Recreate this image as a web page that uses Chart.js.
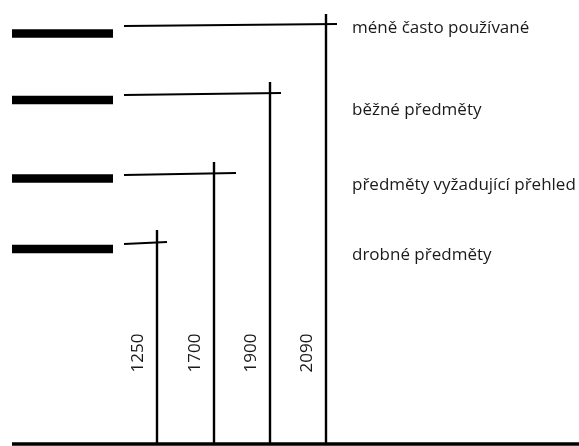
<!DOCTYPE html>
<html>
<head>
<meta charset="utf-8">
<script src="https://cdn.jsdelivr.net/npm/chart.js@4/dist/chart.umd.min.js"></script>
<style>
  html, body { margin: 0; padding: 0; background: #fff; }
  #wrap { width: 579px; height: 446px; }
</style>
</head>
<body>
<div id="wrap"><canvas id="chart" width="579" height="446"></canvas></div>
<script>
// categories, bottom to top
const categories = ['drobné předměty', 'předměty vyžadující přehled', 'běžné předměty', 'méně často používané'];
// reach values written on the posts
const reachValues = [1250, 1700, 1900, 2090];
// drawing units (floor = 0)
const shelfLevels = [195, 265.5, 344, 410.5];
const armStartLevels = [200, 269, 349, 418];
const armEndLevels = [202, 271, 351, 420];
const postTops = [214, 282, 362, 430];
const postX = [157, 214, 270, 326];
const armEndX = [167, 236, 281, 337];
const labelLevels = [189, 259, 334, 416];

const shelfFrom = 12, shelfTo = 113, armFrom = 124, labelX = 352;
const valueLabelLevel = 91;

const datasets = [];

// thick shelves on the left
shelfLevels.forEach(function (lv) {
  datasets.push({
    data: [{ x: shelfFrom, y: lv }, { x: shelfTo, y: lv }],
    borderColor: '#000', borderWidth: 8.5, borderCapStyle: 'butt'
  });
});

// thin arms
armStartLevels.forEach(function (lv, i) {
  datasets.push({
    data: [{ x: armFrom, y: lv }, { x: armEndX[i], y: armEndLevels[i] }],
    borderColor: '#000', borderWidth: 2.2
  });
});

// vertical posts
postTops.forEach(function (top, i) {
  datasets.push({
    data: [{ x: postX[i], y: 0 }, { x: postX[i], y: top }],
    borderColor: '#000', borderWidth: 2.4
  });
});

// floor
datasets.push({
  data: [{ x: shelfFrom, y: 0 }, { x: 579, y: 0 }],
  borderColor: '#000', borderWidth: 3.5, borderCapStyle: 'butt'
});

const textPlugin = {
  id: 'texts',
  afterDatasetsDraw: function (chart) {
    const ctx = chart.ctx;
    const xs = chart.scales.x, ys = chart.scales.y;
    ctx.save();
    ctx.fillStyle = '#1a1a1a';
    ctx.font = '17px "Open Sans"';
    ctx.textBaseline = 'middle';
    ctx.textAlign = 'left';
    categories.forEach(function (c, i) {
      ctx.fillText(c, xs.getPixelForValue(labelX), ys.getPixelForValue(labelLevels[i]));
    });
    ctx.font = '17px "Open Sans"';
    ctx.textAlign = 'center';
    reachValues.forEach(function (v, i) {
      ctx.save();
      ctx.translate(xs.getPixelForValue(postX[i] - 19), ys.getPixelForValue(valueLabelLevel));
      ctx.rotate(-Math.PI / 2);
      ctx.fillText(String(v), 0, 0);
      ctx.restore();
    });
    ctx.restore();
  }
};

new Chart(document.getElementById('chart'), {
  type: 'scatter',
  data: { datasets: datasets },
  options: {
    responsive: false,
    animation: false,
    showLine: true,
    layout: { padding: 0 },
    elements: { point: { radius: 0, hoverRadius: 0 }, line: { tension: 0 } },
    datasets: { scatter: { clip: false } },
    scales: {
      x: { type: 'linear', display: false, min: 0, max: 579 },
      y: { type: 'linear', display: false, min: -2, max: 444 }
    },
    plugins: { legend: { display: false }, tooltip: { enabled: false } }
  },
  plugins: [textPlugin]
});
</script>
</body>
</html>
